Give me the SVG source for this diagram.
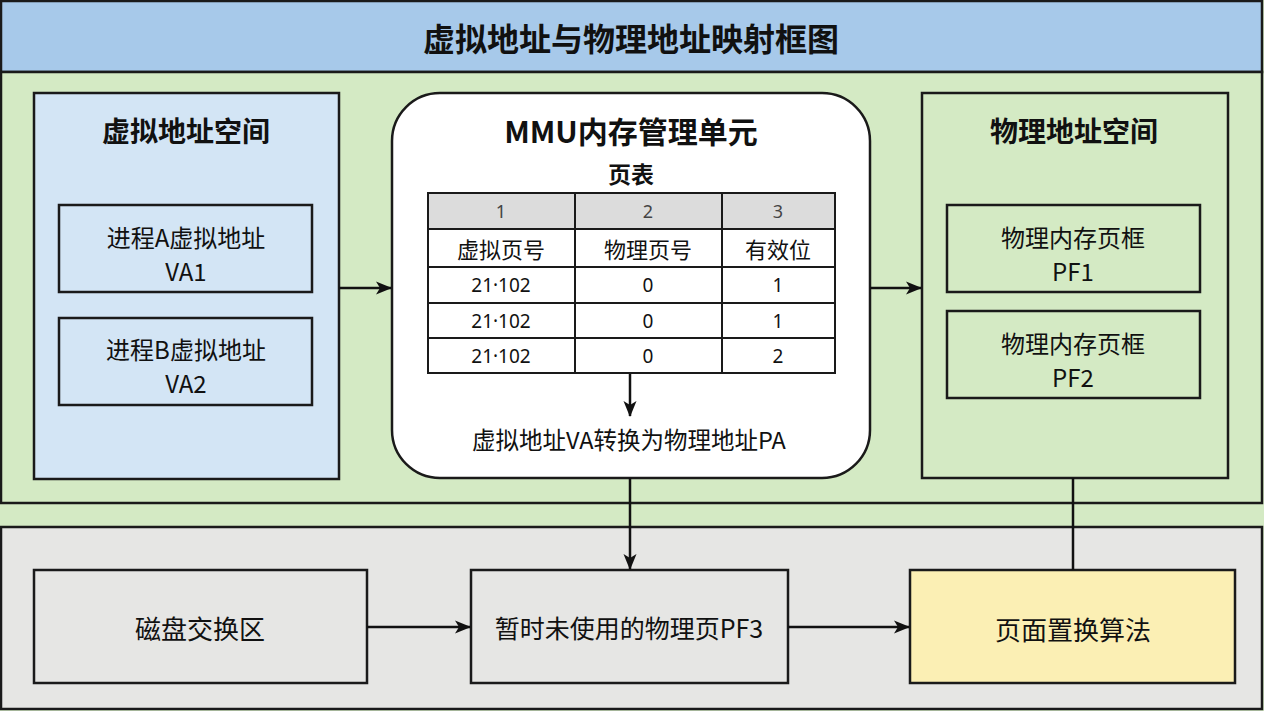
<svg xmlns="http://www.w3.org/2000/svg" width="1264" height="711" viewBox="0 0 1264 711">
<defs>
<marker id="ah" markerWidth="16" markerHeight="16" refX="15" refY="8" orient="auto" markerUnits="userSpaceOnUse">
<path d="M0,1.5 L16,8 L0,14.5 L4,8 Z" fill="#111"/>
</marker>
<style>
.t{font-family:"Noto Sans CJK SC","Noto Sans",sans-serif;fill:#111;text-anchor:middle;dominant-baseline:central}
.n{font-family:"Noto Sans","Liberation Sans",sans-serif}
.b{font-weight:bold}
.g{fill:#444}
.box{stroke:#1a1a1a;stroke-width:2.5}
.c{stroke:#111;stroke-width:2.5;fill:none}
.grid{stroke:#1a1a1a;stroke-width:2;fill:none}
</style>
</defs>
<rect x="0" y="0" width="1264" height="711" fill="#d4eac4"/>
<g id="title">
<rect x="1" y="1" width="1261" height="71" fill="#a7c9ea" class="box"/>
<text class="t b" x="631" y="37" font-size="32">虚拟地址与物理地址映射框图</text>
</g>
<g id="top-panel">
<rect x="1" y="72" width="1261" height="431" fill="#d4eac4" class="box"/>
</g>
<g id="bottom-panel">
<rect x="1" y="527" width="1261" height="182" fill="#e6e6e4" class="box"/>
</g>
<g id="virtual-space">
<rect x="34" y="93" width="305" height="386" fill="#d3e5f5" class="box"/>
<text class="t b" x="186" y="130" font-size="28">虚拟地址空间</text>
</g>
<g id="va1">
<rect x="59" y="205" width="253" height="87" fill="#d3e5f5" class="box"/>
<text class="t" x="186" y="236" font-size="24">进程A虚拟地址</text>
<text class="t" x="186" y="270" font-size="24">VA1</text>
</g>
<g id="va2">
<rect x="59" y="318" width="253" height="87" fill="#d3e5f5" class="box"/>
<text class="t" x="186" y="348" font-size="24">进程B虚拟地址</text>
<text class="t" x="186" y="382" font-size="24">VA2</text>
</g>
<g id="mmu">
<rect x="392" y="93" width="478" height="385" rx="48" ry="48" fill="#ffffff" class="box"/>
<text class="t b" x="631" y="130" font-size="30">MMU内存管理单元</text>
<text class="t b" x="631" y="173" font-size="23">页表</text>
<rect x="428" y="193" width="407" height="36" fill="#dcdcdc"/>
<rect x="428" y="193" width="407" height="180" class="grid"/>
<path class="grid" d="M575,193V373M722,193V373M428,229H835M428,267H835M428,303H835M428,338H835"/>
<text class="t n g" x="501" y="211" font-size="18">1</text>
<text class="t n g" x="648" y="211" font-size="18">2</text>
<text class="t n g" x="778" y="211" font-size="18">3</text>
<text class="t" x="501" y="248" font-size="22">虚拟页号</text>
<text class="t" x="648" y="248" font-size="22">物理页号</text>
<text class="t" x="778" y="248" font-size="22">有效位</text>
<text class="t n" x="501" y="285" font-size="19">21·102</text>
<text class="t n" x="648" y="285" font-size="19">0</text>
<text class="t n" x="778" y="285" font-size="19">1</text>
<text class="t n" x="501" y="321" font-size="19">21·102</text>
<text class="t n" x="648" y="321" font-size="19">0</text>
<text class="t n" x="778" y="321" font-size="19">1</text>
<text class="t n" x="501" y="356" font-size="19">21·102</text>
<text class="t n" x="648" y="356" font-size="19">0</text>
<text class="t n" x="778" y="356" font-size="19">2</text>
<text class="t" x="629" y="439" font-size="23.5">虚拟地址VA转换为物理地址PA</text>
</g>
<g id="physical-space">
<rect x="922" y="93" width="306" height="385" fill="#d4eac4" class="box"/>
<text class="t b" x="1074" y="130" font-size="28">物理地址空间</text>
</g>
<g id="pf1">
<rect x="947" y="205" width="253" height="87" fill="#d4eac4" class="box"/>
<text class="t" x="1073" y="236" font-size="24">物理内存页框</text>
<text class="t" x="1073" y="270" font-size="24">PF1</text>
</g>
<g id="pf2">
<rect x="947" y="311" width="253" height="87" fill="#d4eac4" class="box"/>
<text class="t" x="1073" y="342" font-size="24">物理内存页框</text>
<text class="t" x="1073" y="376" font-size="24">PF2</text>
</g>
<g id="disk-swap">
<rect x="34" y="570" width="333" height="113" fill="#e6e6e4" class="box"/>
<text class="t" x="200" y="627" font-size="26">磁盘交换区</text>
</g>
<g id="pf3">
<rect x="471" y="570" width="317" height="113" fill="#e6e6e4" class="box"/>
<text class="t" x="629" y="627" font-size="25">暂时未使用的物理页PF3</text>
</g>
<g id="page-replace">
<rect x="910" y="570" width="325" height="113" fill="#fbefb4" class="box"/>
<text class="t" x="1073" y="628" font-size="26">页面置换算法</text>
</g>
<g id="connectors">
<line class="c" x1="339" y1="288" x2="391" y2="288" marker-end="url(#ah)"/>
<line class="c" x1="870" y1="288" x2="921" y2="288" marker-end="url(#ah)"/>
<line class="c" x1="630" y1="374" x2="630" y2="416" marker-end="url(#ah)"/>
<line class="c" x1="630" y1="478" x2="630" y2="569" marker-end="url(#ah)"/>
<line class="c" x1="1073" y1="478" x2="1073" y2="570"/>
<line class="c" x1="367" y1="627" x2="470" y2="627" marker-end="url(#ah)"/>
<line class="c" x1="788" y1="627" x2="909" y2="627" marker-end="url(#ah)"/>
</g>
</svg>
